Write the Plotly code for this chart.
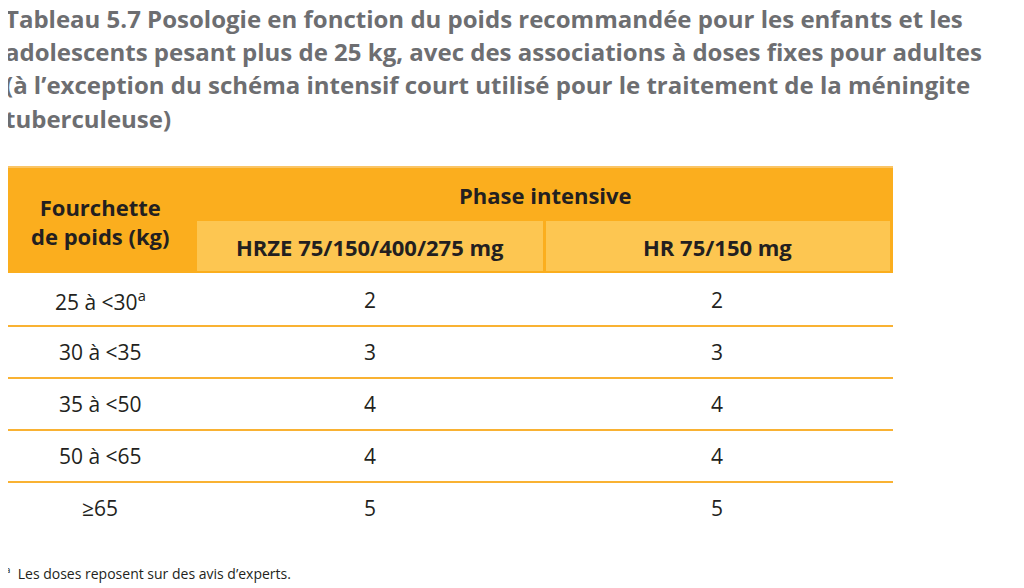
import plotly.graph_objects as go

title_lines = ["Tableau 5.7 Posologie en fonction du poids recommandée pour les enfants et les",
               "adolescents pesant plus de 25 kg, avec des associations à doses fixes pour adultes",
               "(à l’exception du schéma intensif court utilisé pour le traitement de la méningite",
               "tuberculeuse)"]
col0_header = "Fourchette<br>de poids (kg)"
group_header = "Phase intensive"
sub_headers = ["HRZE 75/150/400/275 mg", "HR 75/150 mg"]
weights = ["25 à <30<sup>a</sup>", "30 à <35", "35 à <50", "50 à <65", "≥65"]
hrze = [2, 3, 4, 4, 5]
hr = [2, 3, 4, 4, 5]
footnote = "<sup>a</sup>  Les doses reposent sur des avis d’experts."

W, H = 1024, 588
OX, OY = 8, 8  # page body offset
def X(p): return (p - OX) / W
def Y(p): return 1 - (p - OY) / H

ORANGE = "#FBAE1E"; LIGHT = "#FDC651"; LINE = "#F9B233"
TEXT = "#231F20"; GRAY = "#6D6E71"
FONT = "Open Sans"

shapes = []
def rect(x0, y0, x1, y1, color):
    shapes.append(dict(type="rect", xref="paper", yref="paper", x0=X(x0), x1=X(x1),
                       y0=Y(y1), y1=Y(y0), fillcolor=color, line_width=0, layer="below"))
def hline(y, w=2):
    shapes.append(dict(type="line", xref="paper", yref="paper", x0=X(5), x1=X(893),
                       y0=Y(y), y1=Y(y), line=dict(color=LINE, width=w)))

hline(167, 1.5)
rect(5, 168, 893, 273, ORANGE)
rect(197, 221, 543, 271, LIGHT)
rect(546, 221, 890, 271, LIGHT)

ann = []
def txt(x, y, s, size=21, bold=False, color=TEXT, xanchor="center", sx=1.0):
    ann.append(dict(xref="paper", yref="paper", x=X(x), y=Y(y), text=s, showarrow=False,
                    xanchor=xanchor, yanchor="middle", align="center",
                    font=dict(family=FONT, size=size, color=color,
                              weight="bold" if bold else "normal")))

for i, line in enumerate(title_lines):
    txt(3, 18 + i * 33.5, line, size=24, bold=True, color=GRAY, xanchor="left")

txt(100, 221, col0_header, size=22, bold=True)
txt(545, 195, group_header, size=22, bold=True)
txt(370, 247, sub_headers[0], size=22, bold=True)
txt(717, 247, sub_headers[1], size=22, bold=True)

row_h = 52
for i, (w_, a, b) in enumerate(zip(weights, hrze, hr)):
    yc = 300 + i * row_h
    txt(100, yc, w_, size=21)
    txt(370, yc, str(a), size=21)
    txt(717, yc, str(b), size=21)
    if i < len(weights) - 1:
        hline(yc + 26, 2)

txt(3, 573, footnote, size=14, xanchor="left")

fig = go.Figure()
fig.update_layout(width=W, height=H, margin=dict(l=0, r=0, t=0, b=0),
                  paper_bgcolor="white", plot_bgcolor="white",
                  xaxis=dict(visible=False), yaxis=dict(visible=False),
                  shapes=shapes, annotations=ann)
fig.write_html("out.html")
